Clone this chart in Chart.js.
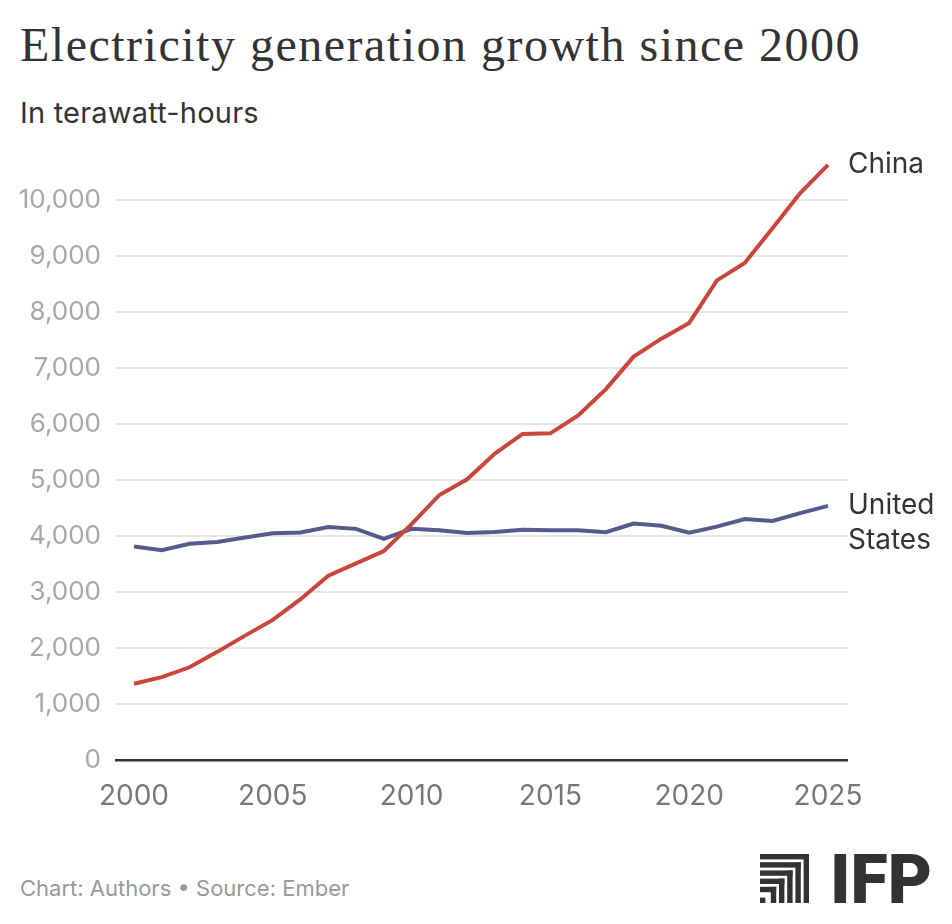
<!DOCTYPE html>
<html>
<head>
<meta charset="utf-8">
<title>Electricity generation growth since 2000</title>
<script src="https://cdn.jsdelivr.net/npm/chart.js@4.4.1/dist/chart.umd.min.js"></script>
<style>
    html, body { margin: 0; padding: 0; background: #fff; }
    body { width: 952px; height: 924px; position: relative; overflow: hidden; font-family: Inter, "Noto Sans", sans-serif; }
    #title { position: absolute; left: 20px; top: 21px; font-family: "Liberation Serif", serif; font-size: 48px; line-height: 48px; letter-spacing: 1.5px; color: #333; white-space: nowrap; }
    #subtitle { position: absolute; left: 20px; top: 98px; font-size: 29px; line-height: 29px; letter-spacing: 0.2px; color: #333; white-space: nowrap; }
    #footer { position: absolute; left: 20px; top: 877px; font-size: 22px; line-height: 22px; color: #999; white-space: nowrap; }
    #wrap { position: absolute; left: 0; top: 132px; width: 952px; height: 708px; }
    #logo { position: absolute; left: 760px; top: 854px; }
</style>
</head>
<body>
<div id="title">Electricity generation growth since 2000</div>
<div id="subtitle">In terawatt-hours</div>
<div id="wrap"><canvas id="myChart"></canvas></div>
<div id="footer">Chart: Authors • Source: Ember</div>
<svg id="logo" width="172" height="49" viewBox="0 0 172 49"></svg>
<script>
    // years on the x axis
    var years = [2000, 2001, 2002, 2003, 2004, 2005, 2006, 2007, 2008, 2009, 2010, 2011, 2012,
                 2013, 2014, 2015, 2016, 2017, 2018, 2019, 2020, 2021, 2022, 2023, 2024, 2025];

    // TWh
    var china = [1360, 1480, 1655, 1930, 2220, 2500, 2870, 3290, 3510, 3730, 4210, 4730, 5010,
                 5470, 5820, 5830, 6150, 6620, 7200, 7520, 7800, 8560, 8870, 9490, 10120, 10620];
    var us = [3810, 3745, 3860, 3890, 3970, 4045, 4060, 4160, 4125, 3945, 4125, 4100, 4050,
              4070, 4110, 4100, 4100, 4065, 4220, 4180, 4055, 4165, 4300, 4265, 4405, 4535];

    var xTicks = [2000, 2005, 2010, 2015, 2020, 2025];
    var yTicks = [0, 1000, 2000, 3000, 4000, 5000, 6000, 7000, 8000, 9000, 10000];

    var seriesNames = [["China"], ["United", "States"]];
    var seriesColors = ["#c8463a", "#565a8d"];

    function points(vals) {
        return years.map(function (yr, i) { return { x: yr, y: vals[i] }; });
    }

    // names written at the end of each line
    var endLabels = {
        id: "endLabels",
        afterDatasetsDraw: function (chart) {
            var ctx = chart.ctx;
            ctx.save();
            ctx.font = "28px Inter";
            ctx.fillStyle = "#333";
            ctx.textAlign = "left";
            ctx.textBaseline = "middle";
            chart.data.datasets.forEach(function (ds, i) {
                var meta = chart.getDatasetMeta(i);
                var last = meta.data[meta.data.length - 1];
                seriesNames[i].forEach(function (line, k) {
                    ctx.fillText(line, chart.chartArea.right, last.y + k * 35);
                });
            });
            ctx.restore();
        }
    };

    Chart.defaults.font.family = "Inter";

    var ctx = document.getElementById("myChart").getContext("2d");
    var chart = new Chart(ctx, {
        type: "line",
        data: {
            datasets: [{
                label: "China",
                data: points(china),
                borderColor: seriesColors[0],
                borderWidth: 4,
                pointRadius: 0,
                tension: 0
            }, {
                label: "United States",
                data: points(us),
                borderColor: seriesColors[1],
                borderWidth: 4,
                pointRadius: 0,
                tension: 0
            }]
        },
        options: {
            responsive: true,
            maintainAspectRatio: false,
            animation: false,
            layout: { padding: { top: 10, right: 104, bottom: 0, left: 0 } },
            plugins: {
                legend: { display: false },
                tooltip: { enabled: false }
            },
            scales: {
                x: {
                    type: "linear",
                    min: 1999.316,
                    max: 2025.72,
                    afterBuildTicks: function (scale) {
                        scale.ticks = xTicks.map(function (v) { return { value: v }; });
                    },
                    afterFit: function (scale) { scale.height = 80; },
                    grid: { display: false },
                    border: { display: false },
                    ticks: {
                        padding: 12,
                        color: "#777",
                        font: { size: 28 },
                        maxRotation: 0,
                        callback: function (v) { return String(v); }
                    }
                },
                y: {
                    min: 0,
                    max: 10680,
                    afterBuildTicks: function (scale) {
                        scale.ticks = yTicks.map(function (v) { return { value: v }; });
                    },
                    afterFit: function (scale) { scale.width = 115; },
                    grid: {
                        drawTicks: false,
                        lineWidth: function (c) { return c.tick && c.tick.value === 0 ? 2.5 : 2; },
                        color: function (c) { return c.tick && c.tick.value === 0 ? "#333" : "#e6e6e6"; }
                    },
                    border: { display: false },
                    ticks: {
                        padding: 14,
                        color: "#a8a8a8",
                        font: { size: 26 },
                        callback: function (v) { return v.toLocaleString("en-US"); }
                    }
                }
            }
        },
        plugins: [endLabels]
    });

    // IFP mark: nested corner bars plus the letters
    var svg = document.getElementById("logo");
    var parts = "";
    var step = 8.2, bar = 5.4, size = 49;
    for (var i = 0; i < 5; i++) {
        var t = i * step;
        parts += '<rect x="0" y="' + t + '" width="' + (size - t) + '" height="' + bar + '" fill="#333"/>';
        parts += '<rect x="' + (size - t - bar) + '" y="' + t + '" width="' + bar + '" height="' + (size - t) + '" fill="#333"/>';
    }
    parts += '<rect x="0" y="' + (size - bar) + '" width="' + bar + '" height="' + bar + '" fill="#333"/>';
    parts += '<text x="70" y="49" font-family="Roboto, Liberation Sans, sans-serif" font-weight="900" font-size="68" ' +
             'textLength="102" lengthAdjust="spacingAndGlyphs" fill="#333">IFP</text>';
    svg.innerHTML = parts;
</script>
</body>
</html>
